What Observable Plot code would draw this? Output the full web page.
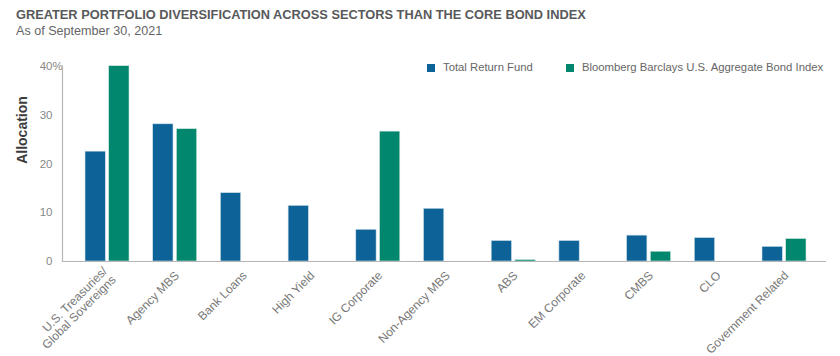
<!DOCTYPE html>
<html>
<head>
<meta charset="utf-8">
<script src="https://cdn.jsdelivr.net/npm/d3@7"></script>
<script src="https://cdn.jsdelivr.net/npm/@observablehq/plot@0.6"></script>
<style>
  html, body { margin: 0; padding: 0; background: #fff; }
  #wrap { position: relative; width: 840px; height: 356px; overflow: hidden; font-family: "Liberation Sans", Arial, sans-serif; }
  #title { position: absolute; left: 16px; top: 7px; font-size: 12.8px; font-weight: bold; color: #58595b; white-space: nowrap; }
  #subtitle { position: absolute; left: 16px; top: 24px; font-size: 12.6px; color: #666; white-space: nowrap; }
  #chart { position: absolute; left: 0; top: 45px; }
  .leg { position: absolute; font-size: 11.3px; color: #666; white-space: nowrap; }
  .sw { position: absolute; width: 8px; height: 8px; }
</style>
</head>
<body>
<div id="wrap">
  <div id="title">GREATER PORTFOLIO DIVERSIFICATION ACROSS SECTORS THAN THE CORE BOND INDEX</div>
  <div id="subtitle">As of September 30, 2021</div>
  <div id="chart"></div>
  <div class="sw" style="left:427px;top:64px;background:#0d6298"></div>
  <div class="leg" style="left:443px;top:61px">Total Return Fund</div>
  <div class="sw" style="left:566px;top:64px;background:#00876d"></div>
  <div class="leg" style="left:582px;top:61px">Bloomberg Barclays U.S. Aggregate Bond Index</div>
</div>
<script>
const sectors = ["U.S. Treasuries/\nGlobal Sovereigns", "Agency MBS", "Bank Loans", "High Yield", "IG Corporate", "Non-Agency MBS", "ABS", "EM Corporate", "CMBS", "CLO", "Government Related"];
const fundValues = [22.5, 28.1, 14.0, 11.4, 6.5, 10.8, 4.2, 4.2, 5.3, 4.8, 3.0];
const indexValues = [40.0, 27.1, 0, 0, 26.6, 0, 0.3, 0, 2.0, 0, 4.6];
const seriesNames = ["Total Return Fund", "Bloomberg Barclays U.S. Aggregate Bond Index"];
const yTicks = [0, 10, 20, 30, 40];

const fund = sectors.map((s, i) => ({sector: s, value: fundValues[i], series: seriesNames[0]}));
const index = sectors.map((s, i) => ({sector: s, value: indexValues[i], series: seriesNames[1]})).filter(d => d.value > 0);

const plot = Plot.plot({
  width: 840,
  height: 311,
  marginLeft: 62,
  marginRight: 14,
  marginTop: 20.7,
  marginBottom: 95,
  style: {fontFamily: "Liberation Sans, Arial, sans-serif", background: "#fff", overflow: "visible"},
  x: {domain: sectors, range: [85, 806], paddingInner: 0.35, paddingOuter: 0, round: false, label: null},
  y: {domain: [0, 40], label: null},
  marks: [
    Plot.barY(fund, {x: "sector", y: "value", fill: "#0d6298", stroke: "#cfe0ea", strokeWidth: 0.6, insetRight: 23.7}),
    Plot.barY(index, {x: "sector", y: "value", fill: "#00876d", stroke: "#cfe6df", strokeWidth: 0.6, insetLeft: 23.7}),
    Plot.ruleY([0], {stroke: "#b5b5b5", strokeWidth: 1.2}),
    Plot.axisY({ticks: yTicks, tickSize: 0, tickPadding: 10, tickFormat: d => String(d), fontSize: 11.5, fill: "#888", label: null}),
    Plot.text(["%"], {y: 40, frameAnchor: "left", dx: -10, textAnchor: "start", fontSize: 11.5, fill: "#888"}),
    Plot.axisX({tickSize: 0, tickPadding: 12, dx: 2, tickRotate: -45, fontSize: 12, fill: "#777", label: null}),
    Plot.frame({anchor: "left", stroke: "#b5b5b5", strokeWidth: 1.2}),
    Plot.text(["Allocation"], {frameAnchor: "left", dx: -40, rotate: -90, fontSize: 14, fontWeight: "bold", fill: "#3c3c3c"})
  ]
});
document.getElementById("chart").appendChild(plot);
</script>
</body>
</html>
